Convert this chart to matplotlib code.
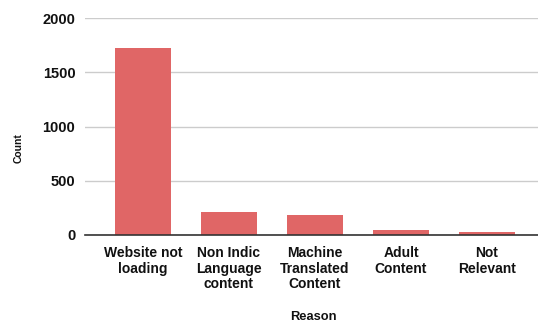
import matplotlib
matplotlib.use("Agg")
import matplotlib.pyplot as plt

categories = ["Website not\nloading", "Non Indic\nLanguage\ncontent",
              "Machine\nTranslated\nContent", "Adult\nContent", "Not\nRelevant"]
counts = [1725, 209, 182, 43, 26]
yticks = [0, 500, 1000, 1500, 2000]

plt.rcParams["font.family"] = ["Liberation Sans", "DejaVu Sans"]
text_color = "#111111"

fig = plt.figure(figsize=(5.38, 3.24), dpi=100)
ax = fig.add_axes([85 / 538, 89 / 324, 453 / 538, 217 / 324])

x = list(range(len(categories)))
ax.bar(x, counts, width=0.65, color="#e06666", zorder=3)

ax.set_ylim(0, 2000)
ax.set_xlim(-0.674, 4.593)
ax.set_yticks(yticks)
ax.set_yticklabels([str(v) for v in yticks], fontsize=10.5, fontweight="bold", color=text_color)
ax.set_xticks(x)
ax.set_xticklabels(categories, fontsize=10, fontweight="bold", color=text_color, linespacing=1.15)
ax.tick_params(axis="both", length=0)
ax.tick_params(axis="y", pad=7)
ax.tick_params(axis="x", pad=8)

ax.grid(axis="y", color="#cccccc", linewidth=1, zorder=0)
for s in ["top", "right", "left"]:
    ax.spines[s].set_visible(False)
ax.spines["bottom"].set_color("#333333")
ax.spines["bottom"].set_linewidth(1.2)
ax.spines["bottom"].set_zorder(4)

fig.text(19 / 538, 1 - 148 / 324, "Count", rotation=90, ha="center", va="center",
         fontsize=7.5, fontweight="bold", color=text_color)
fig.text(313 / 538, 1 - 317 / 324, "Reason", ha="center", va="center",
         fontsize=9.3, fontweight="bold", color=text_color)

fig.savefig("out.png", dpi=100)
